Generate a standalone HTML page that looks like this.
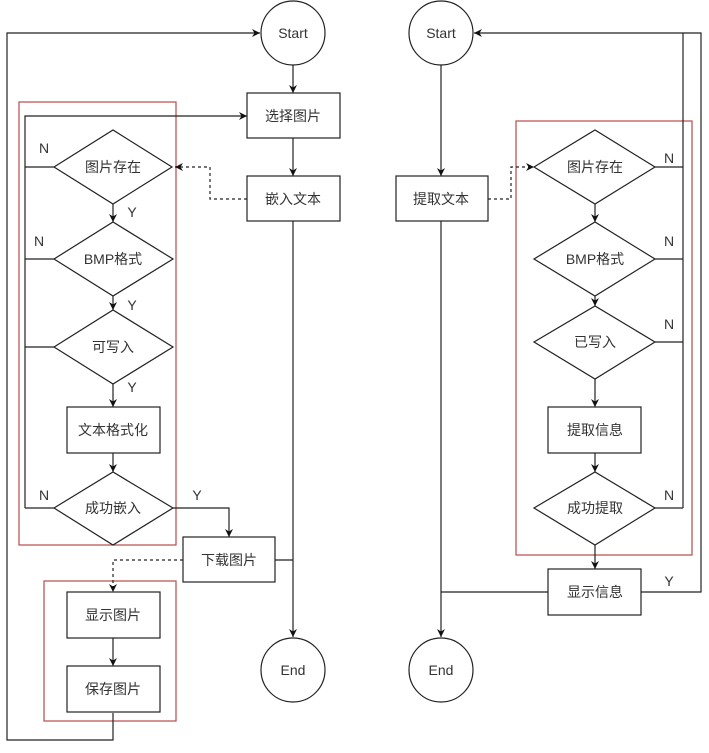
<!DOCTYPE html>
<html><head><meta charset="utf-8"><style>
html,body{margin:0;padding:0;background:#fff;}
text{font-family:"Liberation Sans","Noto Sans CJK SC",sans-serif;font-size:14px;fill:#333;}
</style></head><body>
<svg width="709" height="748" viewBox="0 0 709 748" xmlns="http://www.w3.org/2000/svg">
<defs><marker id="a" markerWidth="10" markerHeight="10" refX="8" refY="5" orient="auto" markerUnits="userSpaceOnUse"><path d="M0,1 L8,5 L0,9 L2.5,5 Z" fill="#111"/></marker></defs>
<g fill="none" stroke="#b84a4a" stroke-width="1.2">
<rect x="19" y="102" width="157" height="443"/>
<rect x="44" y="581" width="132" height="140"/>
<rect x="516" y="121" width="176" height="434"/>
</g>
<g fill="none" stroke="#222" stroke-width="1.2">
<polyline points="113,713 113,740 7,740 7,33 260,33" marker-end="url(#a)"/>
<line x1="293" y1="65" x2="293" y2="93" marker-end="url(#a)"/>
<line x1="293" y1="138" x2="293" y2="176" marker-end="url(#a)"/>
<line x1="293" y1="221" x2="293" y2="637" marker-end="url(#a)"/>
<polyline points="25,508 25,116 247,116" marker-end="url(#a)"/>
<line x1="25" y1="167" x2="54" y2="167"/>
<line x1="25" y1="259" x2="54" y2="259"/>
<line x1="25" y1="347" x2="54" y2="347"/>
<line x1="25" y1="508" x2="54" y2="508"/>
<polyline points="247,199 210,199 210,167 175,167" stroke-dasharray="3,3" marker-end="url(#a)"/>
<line x1="113" y1="204" x2="113" y2="222" marker-end="url(#a)"/>
<line x1="113" y1="296" x2="113" y2="310" marker-end="url(#a)"/>
<line x1="113" y1="384" x2="113" y2="407" marker-end="url(#a)"/>
<line x1="113" y1="453" x2="113" y2="472" marker-end="url(#a)"/>
<polyline points="173,508 229,508 229,537" marker-end="url(#a)"/>
<line x1="275" y1="560" x2="293" y2="560"/>
<polyline points="183,560 113,560 113,592" stroke-dasharray="3,3" marker-end="url(#a)"/>
<line x1="113" y1="638" x2="113" y2="666" marker-end="url(#a)"/>
<circle cx="293" cy="33" r="32"/>
<circle cx="293" cy="670" r="32"/>
<rect x="247" y="93" width="93" height="45"/>
<rect x="247" y="176" width="93" height="45"/>
<rect x="67" y="407" width="93" height="46"/>
<rect x="183" y="537" width="92" height="45"/>
<rect x="67" y="592" width="93" height="46"/>
<rect x="67" y="666" width="93" height="46"/>
<polygon points="54,167 113,130 172,167 113,204"/>
<polygon points="54,259 113,222 173,259 113,296"/>
<polygon points="54,347 113,310 173,347 113,384"/>
<polygon points="54,508 113,472 173,508 113,545"/>
<line x1="441" y1="65" x2="441" y2="176" marker-end="url(#a)"/>
<line x1="441" y1="221" x2="441" y2="637" marker-end="url(#a)"/>
<polyline points="488,199 511,199 511,167 534,167" stroke-dasharray="3,3" marker-end="url(#a)"/>
<line x1="683" y1="33" x2="683" y2="508"/>
<polyline points="641,592 701,592 701,33 474,33" marker-end="url(#a)"/>
<line x1="655" y1="167" x2="683" y2="167"/>
<line x1="655" y1="259" x2="683" y2="259"/>
<line x1="655" y1="342" x2="683" y2="342"/>
<line x1="655" y1="508" x2="683" y2="508"/>
<line x1="595" y1="204" x2="595" y2="222" marker-end="url(#a)"/>
<line x1="595" y1="296" x2="595" y2="306" marker-end="url(#a)"/>
<line x1="595" y1="379" x2="595" y2="407" marker-end="url(#a)"/>
<line x1="595" y1="453" x2="595" y2="472" marker-end="url(#a)"/>
<line x1="595" y1="545" x2="595" y2="569" marker-end="url(#a)"/>
<line x1="548" y1="592" x2="441" y2="592"/>
<circle cx="441" cy="33" r="32"/>
<circle cx="441" cy="670" r="32"/>
<rect x="396" y="176" width="92" height="45"/>
<rect x="548" y="407" width="93" height="46"/>
<rect x="548" y="569" width="93" height="46"/>
<polygon points="534,167 595,130 655,167 595,204"/>
<polygon points="534,259 595,222 655,259 595,296"/>
<polygon points="534,342 595,306 655,342 595,379"/>
<polygon points="534,508 595,472 655,508 595,545"/>
</g>
<g text-anchor="middle" dominant-baseline="central">
<text x="293" y="33">Start</text>
<text x="293" y="670">End</text>
<text x="293" y="116">选择图片</text>
<text x="293" y="199">嵌入文本</text>
<text x="113" y="167">图片存在</text>
<text x="113" y="259">BMP格式</text>
<text x="113" y="347">可写入</text>
<text x="113" y="430">文本格式化</text>
<text x="113" y="508">成功嵌入</text>
<text x="229" y="560">下载图片</text>
<text x="113" y="615">显示图片</text>
<text x="113" y="689">保存图片</text>
<text x="441" y="33">Start</text>
<text x="441" y="670">End</text>
<text x="441" y="199">提取文本</text>
<text x="595" y="167">图片存在</text>
<text x="595" y="259">BMP格式</text>
<text x="595" y="342">已写入</text>
<text x="595" y="430">提取信息</text>
<text x="595" y="508">成功提取</text>
<text x="595" y="592">显示信息</text>
<text x="44" y="148">N</text>
<text x="39" y="241">N</text>
<text x="44" y="495">N</text>
<text x="132" y="212">Y</text>
<text x="132" y="305">Y</text>
<text x="132" y="387">Y</text>
<text x="197" y="495">Y</text>
<text x="669" y="158">N</text>
<text x="669" y="241">N</text>
<text x="669" y="324">N</text>
<text x="669" y="495">N</text>
<text x="669" y="581">Y</text>
</g>
</svg>
</body></html>
